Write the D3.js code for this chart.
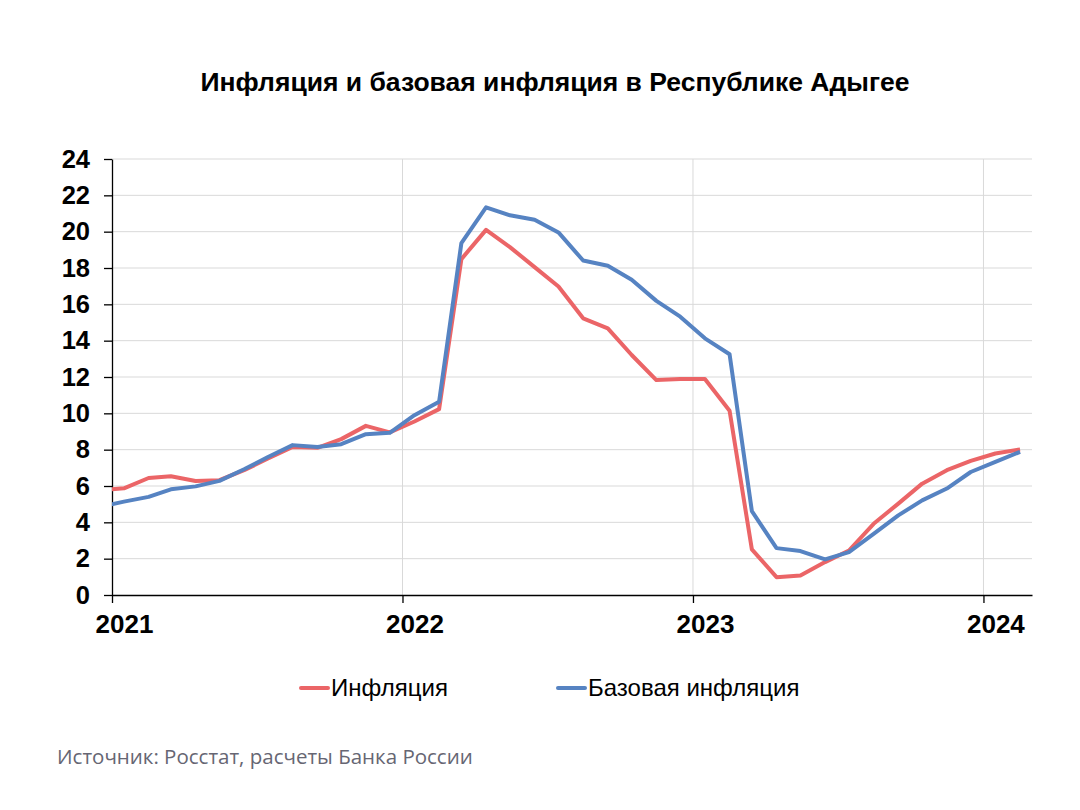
<!DOCTYPE html>
<html>
<head>
<meta charset="utf-8">
<script src="https://cdn.jsdelivr.net/npm/d3@7"></script>
<style>
  body { margin: 0; background: #fff; }
  svg { display: block; }
</style>
</head>
<body>
<div id="chart"></div>
<script>
// monthly values, mid-month, Dec 2020 .. Feb 2024
const months = [
  "2020-12", "2021-01", "2021-02", "2021-03", "2021-04", "2021-05", "2021-06",
  "2021-07", "2021-08", "2021-09", "2021-10", "2021-11", "2021-12",
  "2022-01", "2022-02", "2022-03", "2022-04", "2022-05", "2022-06",
  "2022-07", "2022-08", "2022-09", "2022-10", "2022-11", "2022-12",
  "2023-01", "2023-02", "2023-03", "2023-04", "2023-05", "2023-06",
  "2023-07", "2023-08", "2023-09", "2023-10", "2023-11", "2023-12",
  "2024-01", "2024-02"
];

const inflation = [
  5.77, 5.87, 6.44, 6.54, 6.28, 6.32, 6.87,
  7.51, 8.15, 8.10, 8.58, 9.31, 8.95,
  9.55, 10.23, 18.49, 20.10, 19.15, 18.05,
  16.98, 15.23, 14.68, 13.21, 11.83, 11.89,
  11.89, 10.14, 2.51, 0.98, 1.07, 1.81,
  2.45, 3.92, 5.03, 6.13, 6.87, 7.38,
  7.79, 8.01
];

const coreInflation = [
  4.85, 5.14, 5.40, 5.82, 5.98, 6.28, 6.92,
  7.60, 8.25, 8.15, 8.30, 8.85, 8.93,
  9.90, 10.64, 19.37, 21.34, 20.90, 20.66,
  19.96, 18.41, 18.12, 17.35, 16.19, 15.32,
  14.13, 13.25, 4.62, 2.58, 2.42, 1.96,
  2.36, 3.37, 4.38, 5.21, 5.86, 6.77,
  7.33, 7.88
];

const yTicks = [0, 2, 4, 6, 8, 10, 12, 14, 16, 18, 20, 22, 24];
const yearTicks = ["2021-01-01", "2022-01-01", "2023-01-01", "2024-01-01"];

const series = [
  { name: "Инфляция", values: inflation, color: "#EB6567" },
  { name: "Базовая инфляция", values: coreInflation, color: "#5683C2" }
];

const width = 1080, height = 810;
const margin = { top: 159, right: 48, bottom: 215, left: 112 };
const plotW = width - margin.left - margin.right;
const plotH = height - margin.top - margin.bottom;

const svg = d3.select("#chart").append("svg")
  .attr("width", width)
  .attr("height", height);

const parse = d3.timeParse("%Y-%m-%d");
const dates = months.map(m => parse(m + "-16"));

const x = d3.scaleTime()
  .domain([parse("2021-01-01"), parse("2024-03-02")])
  .range([0, plotW]);

const y = d3.scaleLinear()
  .domain([0, 24])
  .range([plotH, 0]);

// title
svg.append("text")
  .attr("x", 555)
  .attr("y", 91)
  .attr("text-anchor", "middle")
  .style("font-family", "'Liberation Sans', Arial, sans-serif")
  .style("font-weight", "bold")
  .style("font-size", "26.5px")
  .text("Инфляция и базовая инфляция в Республике Адыгее");

const g = svg.append("g")
  .attr("transform", `translate(${margin.left},${margin.top})`);

svg.append("defs").append("clipPath")
  .attr("id", "plot-clip")
  .append("rect")
  .attr("x", 0).attr("y", -10)
  .attr("width", plotW).attr("height", plotH + 20);

// horizontal gridlines
g.append("g")
  .selectAll("line")
  .data(yTicks.filter(d => d > 0))
  .join("line")
  .attr("x1", 0).attr("x2", plotW)
  .attr("y1", d => y(d)).attr("y2", d => y(d))
  .attr("stroke", "#d9d9d9")
  .attr("stroke-width", 1);

// vertical gridlines at years
g.append("g")
  .selectAll("line")
  .data(yearTicks.slice(1).map(parse))
  .join("line")
  .attr("x1", d => x(d)).attr("x2", d => x(d))
  .attr("y1", 0).attr("y2", plotH)
  .attr("stroke", "#d9d9d9")
  .attr("stroke-width", 1);

// y axis
const yAxis = g.append("g")
  .call(d3.axisLeft(y).tickValues(yTicks).tickSize(8).tickPadding(14).tickSizeOuter(0));
yAxis.select(".domain").attr("stroke", "#000").attr("stroke-width", 1.3);
yAxis.selectAll(".tick line").attr("stroke", "#000").attr("stroke-width", 1.3);
yAxis.selectAll("text")
  .style("font-family", "'Liberation Sans', Arial, sans-serif")
  .style("font-weight", "bold")
  .style("font-size", "25.5px")
  .attr("fill", "#000");

// x axis, year labels sit under the January point
const labelShift = x(parse("2021-01-16")) - x(parse("2021-01-01"));
const xAxis = g.append("g")
  .attr("transform", `translate(0,${plotH})`)
  .call(d3.axisBottom(x)
    .tickValues(yearTicks.map(parse))
    .tickFormat(d3.timeFormat("%Y"))
    .tickSize(8).tickPadding(12).tickSizeOuter(0));
xAxis.select(".domain").attr("stroke", "#000").attr("stroke-width", 1.3);
xAxis.selectAll(".tick line").attr("stroke", "#000").attr("stroke-width", 1.3);
xAxis.selectAll("text")
  .attr("dx", labelShift)
  .style("font-family", "'Liberation Sans', Arial, sans-serif")
  .style("font-weight", "bold")
  .style("font-size", "26px")
  .attr("fill", "#000");

// lines
const line = d3.line()
  .x((d, i) => x(dates[i]))
  .y(d => y(d));

g.append("g")
  .attr("clip-path", "url(#plot-clip)")
  .selectAll("path")
  .data(series)
  .join("path")
  .attr("fill", "none")
  .attr("stroke", d => d.color)
  .attr("stroke-width", 4)
  .attr("stroke-linejoin", "round")
  .attr("d", d => line(d.values));

// legend
const legendItems = [
  { x: 301, s: series[0] },
  { x: 558, s: series[1] }
];
const legend = svg.append("g");
legendItems.forEach(item => {
  legend.append("line")
    .attr("x1", item.x).attr("x2", item.x + 27)
    .attr("y1", 688).attr("y2", 688)
    .attr("stroke", item.s.color)
    .attr("stroke-width", 4)
    .attr("stroke-linecap", "round");
  legend.append("text")
    .attr("x", item.x + 30)
    .attr("y", 688)
    .attr("dy", "0.35em")
    .style("font-family", "'Liberation Sans', Arial, sans-serif")
    .style("font-size", "24px")
    .attr("fill", "#000")
    .text(item.s.name);
});

// source
svg.append("text")
  .attr("x", 57)
  .attr("y", 764)
  .style("font-family", "'Open Sans', 'Noto Sans', sans-serif")
  .style("font-size", "20.5px")
  .attr("fill", "#666673")
  .text("Источник: Росстат, расчеты Банка России");
</script>
</body>
</html>
